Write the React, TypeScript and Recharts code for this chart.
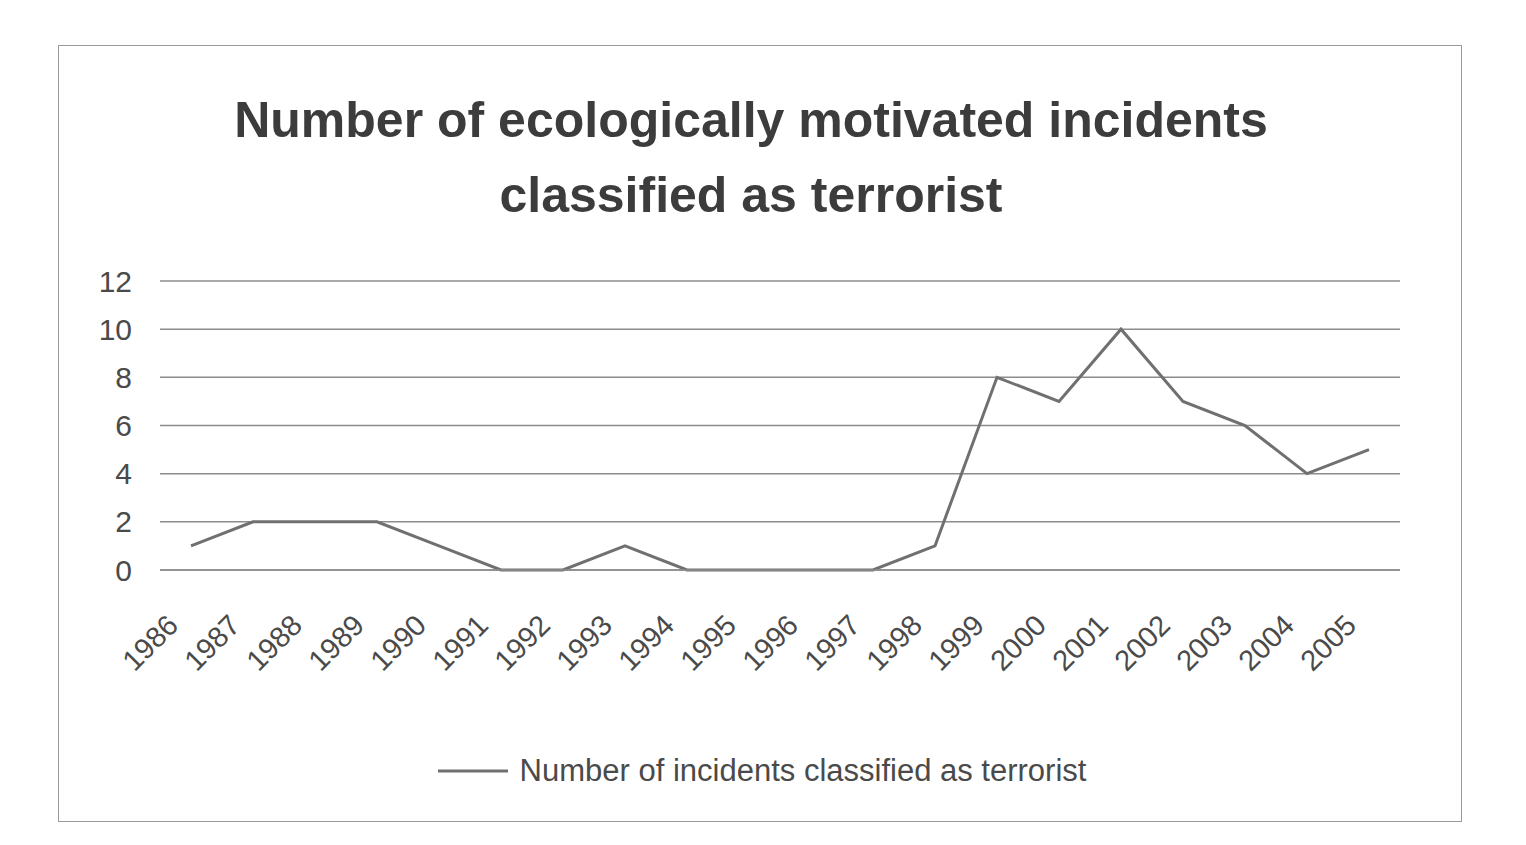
import React from 'react';
import {
  LineChart,
  Line,
  XAxis,
  YAxis,
  CartesianGrid,
  Legend,
} from 'recharts';

const years = [
  '1986', '1987', '1988', '1989', '1990', '1991', '1992', '1993', '1994', '1995',
  '1996', '1997', '1998', '1999', '2000', '2001', '2002', '2003', '2004', '2005',
];
const incidents = [1, 2, 2, 2, 1, 0, 0, 1, 0, 0, 0, 0, 1, 8, 7, 10, 7, 6, 4, 5];
const yTicks = [0, 2, 4, 6, 8, 10, 12];

const seriesName = 'Number of incidents classified as terrorist';
const titleLines = [
  'Number of ecologically motivated incidents',
  'classified as terrorist',
];

const data = years.map((year, i) => ({ year, value: incidents[i] }));

const FONT = '"Liberation Sans", Arial, sans-serif';

function YearTick(props: any) {
  const { x, y, payload } = props;
  const ax = x - 11;
  const ay = y + 57;
  return (
    <text
      x={ax}
      y={ay}
      textAnchor="end"
      fontSize={29}
      fontFamily={FONT}
      fill="#4a4a4a"
      transform={`rotate(-45 ${ax} ${ay})`}
    >
      {payload.value}
    </text>
  );
}

function LegendContent() {
  return (
    <div
      style={{
        display: 'flex',
        alignItems: 'center',
        justifyContent: 'center',
        height: 40,
        paddingLeft: 24,
        fontFamily: FONT,
        fontSize: 31,
        color: '#4a4a4a',
      }}
    >
      <svg width={70} height={6} style={{ marginRight: 12 }}>
        <line x1={0} y1={3} x2={70} y2={3} stroke="#707070" strokeWidth={3} />
      </svg>
      <span>{seriesName}</span>
    </div>
  );
}

export default function App() {
  return (
    <div style={{ position: 'relative', width: 1510, height: 829 }}>
      <div
        style={{
          position: 'absolute',
          left: 50,
          top: 37,
          width: 1402,
          height: 775,
          border: '1.5px solid #9a9a9a',
        }}
      />
      {titleLines.map((line, i) => (
        <div
          key={line}
          style={{
            position: 'absolute',
            left: 0,
            width: 1486,
            top: 85 + i * 75,
            textAlign: 'center',
            fontFamily: FONT,
            fontWeight: 'bold',
            fontSize: 50,
            color: '#3c3c3c',
            lineHeight: '54px',
          }}
        >
          {line}
        </div>
      ))}
      <div style={{ position: 'absolute', left: 0, top: 0 }}>
        <LineChart
          width={1510}
          height={829}
          data={data}
          margin={{ top: 273, right: 118, bottom: 46, left: 92 }}
        >
          <CartesianGrid vertical={false} stroke="#8c8c8c" strokeWidth={1.5} />
          <XAxis
            dataKey="year"
            tickLine={false}
            tickSize={0}
            tickMargin={0}
            padding={{ left: 31, right: 31 }}
            axisLine={{ stroke: '#8c8c8c', strokeWidth: 1.5 }}
            tick={<YearTick />}
            interval={0}
            height={181}
          />
          <YAxis
            domain={[0, 12]}
            ticks={yTicks}
            width={60}
            axisLine={false}
            tickLine={false}
            tickSize={0}
            tickMargin={28}
            tick={{ fontSize: 30, fontFamily: FONT, fill: '#4a4a4a' }}
          />
          <Legend verticalAlign="bottom" height={40} content={<LegendContent />} />
          <Line
            type="linear"
            dataKey="value"
            name={seriesName}
            stroke="#707070"
            strokeWidth={3}
            dot={false}
            isAnimationActive={false}
          />
        </LineChart>
      </div>
    </div>
  );
}
